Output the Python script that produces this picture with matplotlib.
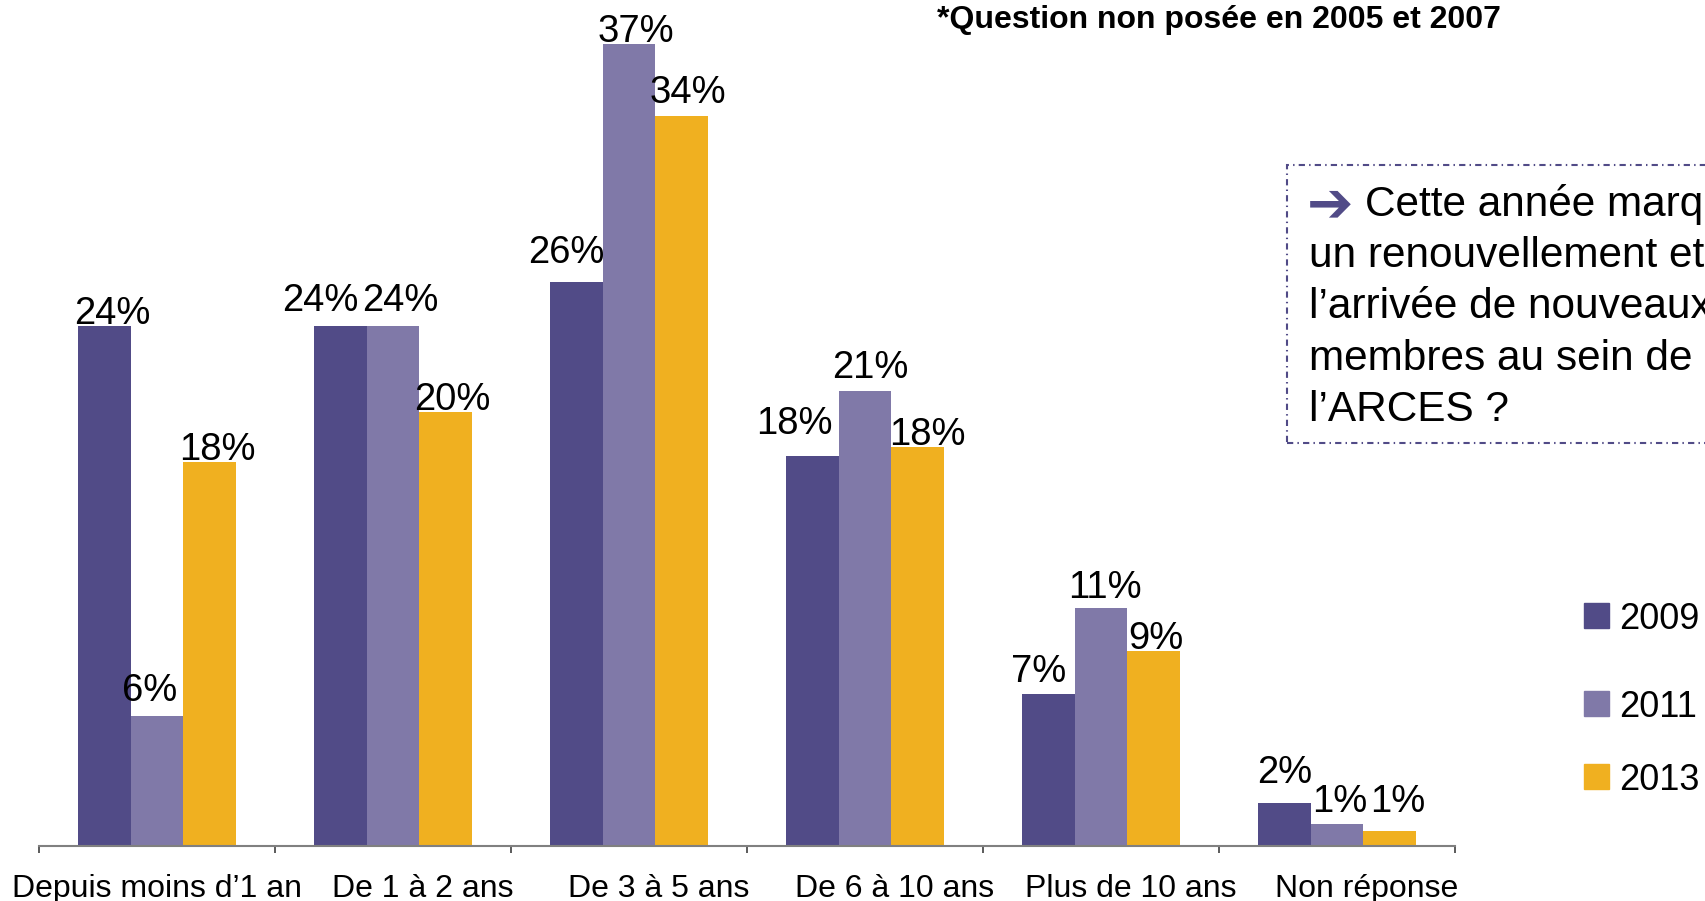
import numpy as np
import matplotlib
matplotlib.use("Agg")
import matplotlib.pyplot as plt
from matplotlib.patches import Rectangle
from matplotlib.transforms import ScaledTranslation

plt.rcParams['font.family'] = ['Liberation Sans', 'DejaVu Sans']

# data
categories = ["Depuis moins d\u20191 an", "De 1 \u00e0 2 ans", "De 3 \u00e0 5 ans",
              "De 6 \u00e0 10 ans", "Plus de 10 ans", "Non r\u00e9ponse"]
years = ["2009", "2011", "2013"]
v2009 = [24, 24, 26, 18, 7, 2]
v2011 = [6, 24, 37, 21, 11, 1]
v2013 = [17.7, 20, 33.7, 18.4, 9, 0.7]
series = [v2009, v2011, v2013]

colors = ["#514B87", "#8079A8", "#F0B020"]
note = "*Question non pos\u00e9e en 2005 et 2007"
box_lines = ["Cette ann\u00e9e marque", "un renouvellement et",
             "l\u2019arriv\u00e9e de nouveaux", "membres au sein de",
             "l\u2019ARCES ?"]

W, H = 1705, 901
fig = plt.figure(figsize=(W / 100, H / 100), dpi=100)
ax = fig.add_axes([39 / W, 55 / H, 1416 / W, 846 / H])

x = np.arange(len(categories))
width = 0.222

# label placement (pixels): (dx from bar centre, baseline height above bar)
# Excel shuffled some labels around to avoid collisions
label_place = {
    0: [(8, 2), (-20, 15), (-10, 19), (-18, 22), (-10, 12), (0, 20)],
    1: [(-7, 15), (7, 15), (7, 2), (5, 13), (4, 10), (3, 12)],
    2: [(8, 2), (7, 2), (6, 13), (10, 2), (2, 2), (8, 19)],
}

for i, (vals, col) in enumerate(zip(series, colors)):
    pos = x + (i - 1) * width
    ax.bar(pos, vals, width, color=col, zorder=2)
    for j, (p, v) in enumerate(zip(pos, vals)):
        dx, dy = label_place[i][j]
        ax.annotate(f"{round(v)}%", (p, v), xytext=(dx * 0.72, dy * 0.72),
                    textcoords="offset points", ha="center", va="baseline",
                    fontsize=27.5, color="black")

ax.set_xlim(-0.5, len(categories) - 0.5)
ax.set_ylim(0, 39.03)
for s in ["top", "right", "left"]:
    ax.spines[s].set_visible(False)
ax.spines["bottom"].set_color("#808080")
ax.spines["bottom"].set_linewidth(1.5)
ax.set_yticks([])
ax.set_xticks(x)
ax.set_xticklabels(categories, fontsize=23)
ax.tick_params(axis="x", which="major", length=0, pad=20)
ax.set_xticks(np.arange(len(categories) + 1) - 0.5, minor=True)
ax.tick_params(axis="x", which="minor", length=5, width=1.2, color="#404040")

# category labels sit right of centre in the reference (except the first)
for k, lab in enumerate(ax.get_xticklabels()):
    shift = 0 if k == 0 else 30
    lab.set_transform(lab.get_transform() +
                      ScaledTranslation(shift / 100, 0, fig.dpi_scale_trans))

# note at the top
fig.text(1501 / W, 1 - 28 / H, note, ha="right", va="baseline",
         fontsize=23, fontweight="bold")

# dash-dot comment box, running off the right edge
box = Rectangle((1287 / W, 1 - 443 / H), (1800 - 1287) / W, (443 - 165) / H,
                transform=fig.transFigure, fill=False, edgecolor="#514B87",
                linewidth=1.5, linestyle=(0, (3, 2, 0.7, 2)))
fig.add_artist(box)
fig.text(1307 / W, 1 - 206 / H, "\u2794", ha="left", va="center",
         fontsize=40, color="#514B87", family="DejaVu Sans")
for k, line in enumerate(box_lines):
    xpos = 1365 if k == 0 else 1309
    fig.text(xpos / W, 1 - (216 + k * 51.25) / H, line, ha="left",
             va="baseline", fontsize=30.5)

# legend items placed as in the reference
legend_y = [615.5, 703.5, 776.5]
for yr, col, ly in zip(years, colors, legend_y):
    fig.add_artist(Rectangle((1584 / W, 1 - (ly + 12.5) / H), 25 / W, 25 / H,
                             transform=fig.transFigure, color=col))
    fig.text(1619 / W, 1 - ly / H, yr, ha="left", va="center_baseline",
             fontsize=26)

fig.savefig("out.png", dpi=100)
